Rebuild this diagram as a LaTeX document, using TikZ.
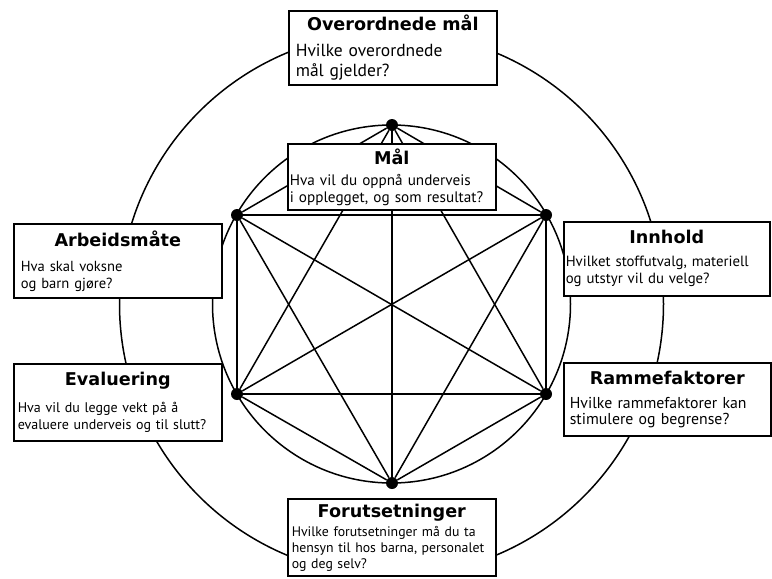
\documentclass[tikz,border=0pt]{standalone}
\usepackage{fontspec}
\setmainfont{PT Sans}
\newfontfamily\headfont{DejaVu Sans}
\usetikzlibrary{positioning,calc}
\newcommand{\boxhead}[1]{\makebox[\linewidth]{\fontsize{17.6}{19}\selectfont\headfont\bfseries #1}}
\newcommand{\bodysize}[2]{\fontsize{#1}{#2}\selectfont}

\begin{document}
\begin{tikzpicture}[x=1pt, y=-1pt,
  box/.style={rectangle, draw, line width=1.6pt, fill=white, anchor=north west,
    align=left, inner ysep=0pt},
  edge/.style={line width=1.5pt},
  dot/.style={circle, fill, inner sep=0pt, minimum size=12pt}
]
  \useasboundingbox (0,0) rectangle (772,579);
  \coordinate (ctr) at (391.5,304);

  % circles
  \draw[edge] (ctr) circle[radius=272];
  \draw[edge] (ctr) circle[radius=179];

  % corners of the hexagon
  \node[dot] (top)   at (392,125) {};
  \node[dot] (rtop)  at (546,215) {};
  \node[dot] (rbot)  at (546,394) {};
  \node[dot] (bot)   at (392,483) {};
  \node[dot] (lbot)  at (237,394) {};
  \node[dot] (ltop)  at (237,215) {};

  \foreach \p/\q in {top/rtop, top/rbot, top/bot, top/lbot, top/ltop,
                     rtop/rbot, rtop/bot, rtop/lbot, rtop/ltop,
                     rbot/bot, rbot/lbot, rbot/ltop,
                     bot/lbot, bot/ltop, lbot/ltop}
    \draw[edge] (\p) -- (\q);

  % boxes
  \node[box, minimum width=208, minimum height=74, inner xsep=7, text width=194,
        font=\bodysize{17.5}{20}] (over) at (288,10)
    {\boxhead{Overordnede mål}\\[6pt]Hvilke overordnede\\mål gjelder?};
  \node[box, minimum width=208, minimum height=66, inner xsep=2, text width=204,
        font=\bodysize{15.2}{17}] (mal) at (287,143)
    {\boxhead{Mål}\\[4pt]Hva vil du oppnå underveis\\i opplegget, og som resultat?};
  \node[box, minimum width=208, minimum height=74, inner xsep=7, text width=194,
        font=\bodysize{14.6}{17}] (arb) at (13,223)
    {\boxhead{Arbeidsmåte}\\[8pt]Hva skal voksne\\og barn gjøre?};
  \node[box, minimum width=206, minimum height=74, inner xsep=2, text width=202,
        font=\bodysize{14.8}{17}] (inn) at (563,221)
    {\boxhead{Innhold}\\[6pt]Hvilket stoffutvalg, materiell\\og utstyr vil du velge?};
  \node[box, minimum width=208, minimum height=77, inner xsep=4, text width=200,
        font=\bodysize{14}{17}] (eval) at (13,363)
    {\boxhead{Evaluering}\\[10pt]Hva vil du legge vekt på å\\evaluere underveis og til slutt?};
  \node[box, minimum width=207, minimum height=73, inner xsep=6, text width=195,
        font=\bodysize{15.8}{16}] (ramme) at (563,362)
    {\boxhead{Rammefaktorer}\\[8pt]Hvilke rammefaktorer kan\\stimulere og begrense?};
  \node[box, minimum width=208, minimum height=77, inner xsep=4, text width=200,
        font=\bodysize{13.8}{16}] (forut) at (287,498)
    {\boxhead{Forutsetninger}\\[3pt]Hvilke forutsetninger må du ta\\hensyn til hos barna, personalet\\og deg selv?};
\end{tikzpicture}
\end{document}
